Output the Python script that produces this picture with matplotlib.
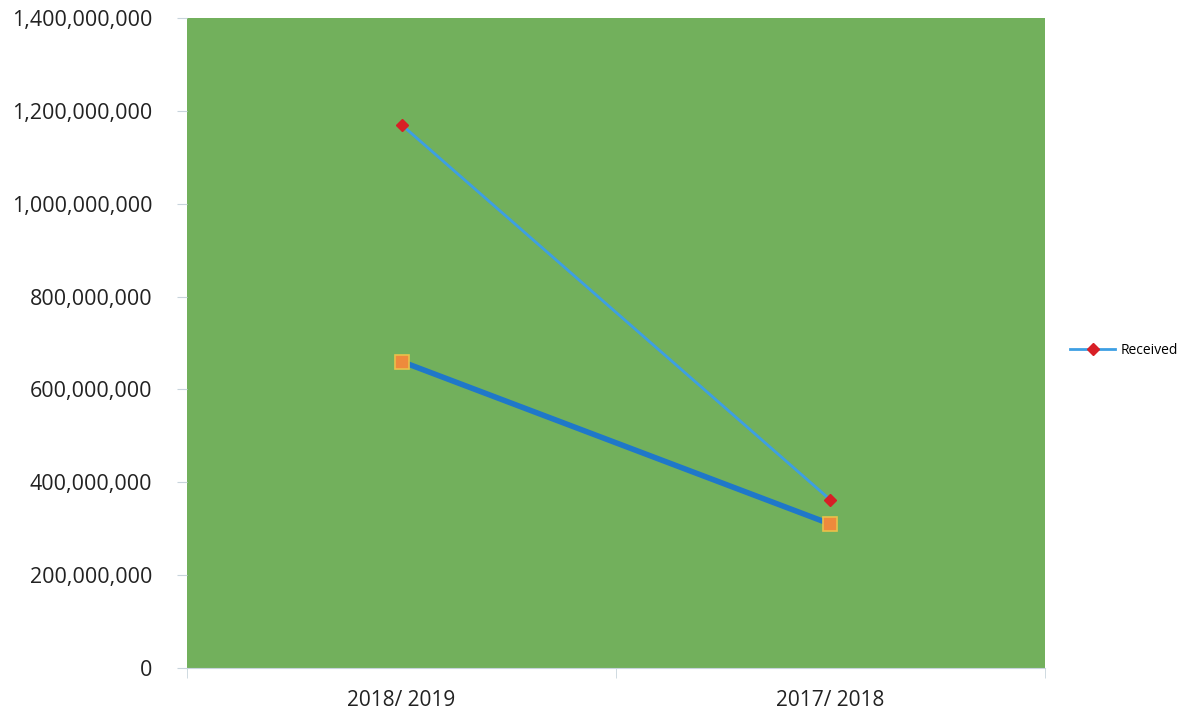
import matplotlib.pyplot as plt
from matplotlib.ticker import FuncFormatter

years = ['2018/ 2019', '2017/ 2018']
received = [1170000000, 362000000]
spent = [660000000, 310000000]
y_ticks = [0, 200000000, 400000000, 600000000, 800000000, 1000000000, 1200000000, 1400000000]

plt.rcParams['font.family'] = ['Open Sans', 'DejaVu Sans']

fig = plt.figure(figsize=(11.99, 7.16), dpi=100)
ax = fig.add_axes([0.156, 0.067, 0.7155, 0.908])
ax.set_facecolor('#72b05c')

x = range(len(years))
ax.plot(x, spent, color='#1f78c9', lw=4, marker='s', ms=10,
        mfc='#ee8a3c', mec='#e9c14a', mew=1.2, label='_nolegend_', zorder=3)
ax.plot(x, received, color='#3d9fe3', lw=2, marker='D', ms=6,
        mfc='#d81f26', mec='#d81f26', label='Received', zorder=4)

ax.set_xlim(-0.5, 1.5)
ax.set_ylim(0, 1400000000)
ax.set_yticks(y_ticks)
ax.yaxis.set_major_formatter(FuncFormatter(lambda v, p: f'{int(v):,}'))
ax.set_xticks(list(x))
ax.set_xticklabels(years)
ax.set_xticks([-0.5, 0.5, 1.5], minor=True)

for s in ['top', 'right', 'left']:
    ax.spines[s].set_visible(False)
ax.spines['bottom'].set_color('#c8d4dc')
ax.tick_params(axis='y', length=7, color='#c8d4dc', labelsize=15.5, labelcolor='#222222', pad=18)
ax.tick_params(axis='x', which='major', length=0, labelsize=15, labelcolor='#222222', pad=16)
ax.tick_params(axis='x', which='minor', length=7, color='#c8d4dc')

ax.legend(loc='center left', bbox_to_anchor=(1.015, 0.488), frameon=False,
          fontsize=10, handlelength=3.2, handletextpad=0.4)

fig.savefig('out.png', dpi=100, facecolor='white')
